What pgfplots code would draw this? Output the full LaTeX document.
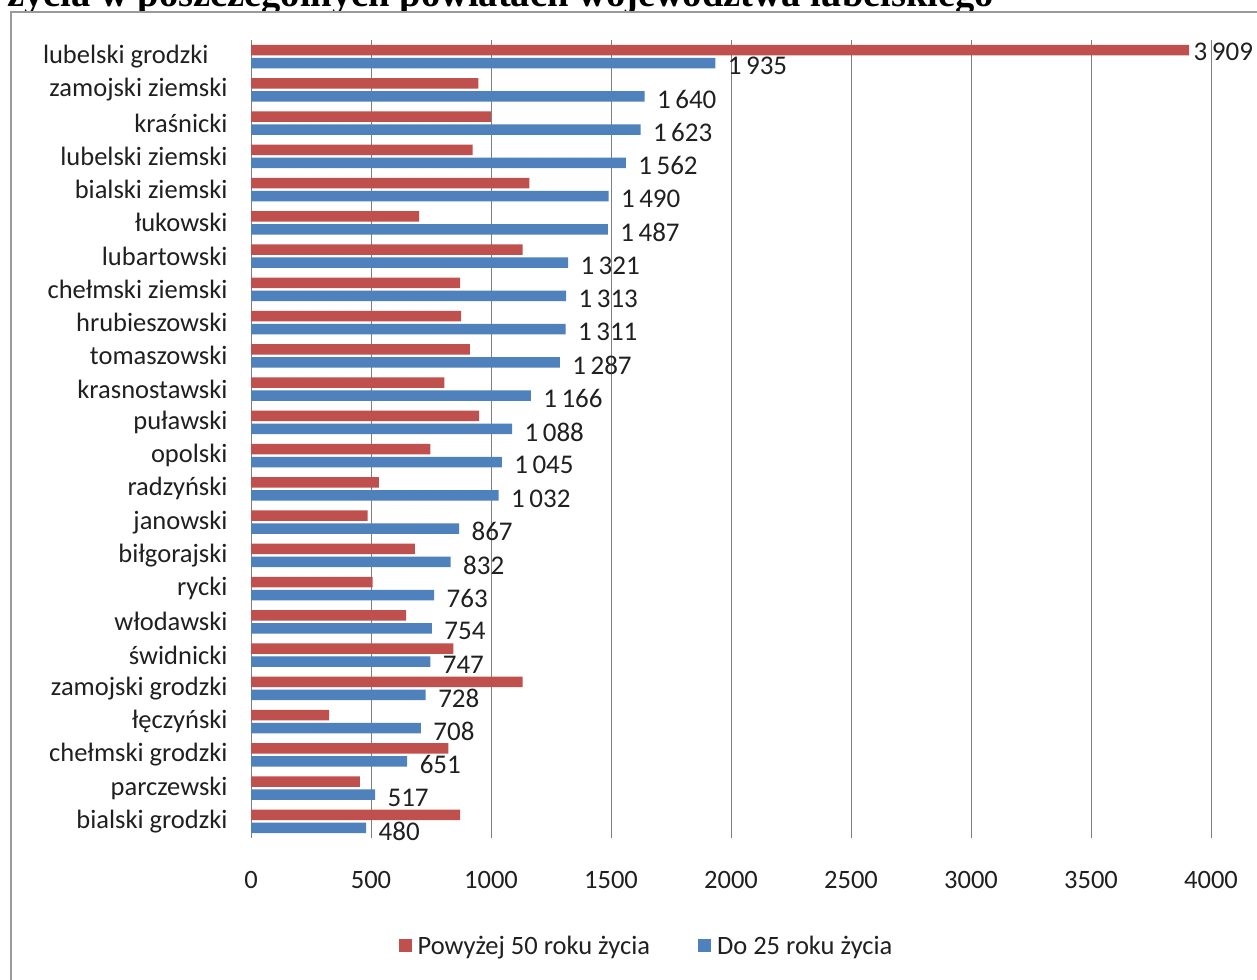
\documentclass[border=0pt]{standalone}
\usepackage{fontspec}
\setmainfont{Carlito}
\newfontfamily\titlefont{Liberation Serif}
\usepackage{pgfplots}
\pgfplotsset{compat=1.18}
\definecolor{redbar}{HTML}{C0504D}
\definecolor{bluebar}{HTML}{4F81BD}
\definecolor{gridgray}{HTML}{7F7F7F}
\definecolor{framegray}{HTML}{9A9A9A}
\definecolor{txt}{HTML}{202020}
\newcommand{\lbl}{\fontsize{26.5}{31}\selectfont}
\newcommand{\dlbl}{\fontsize{27}{32}\selectfont}
\begin{document}
\begin{tikzpicture}[x=1pt,y=1pt]
\useasboundingbox (0,0) rectangle (1257,979);
\node[anchor=base west, inner sep=0, font=\titlefont\bfseries\fontsize{38.5}{45}\selectfont] at (7,972) {życia w poszczególnych powiatach województwa lubelskiego};
\fill[white] (11,-10) rectangle (1270,967);
\draw[framegray, line width=2] (11,-10) rectangle (1270,967);
\begin{axis}[
  at={(251pt,141pt)}, anchor=south west,
  scale only axis, width=960pt, height=798pt,
  xbar, bar width=10.5pt,
  xmin=0, xmax=4000, ymin=-0.5, ymax=23.5, y dir=reverse,
  ytick={0,...,23},
  yticklabels={lubelski grodzki\hspace*{19pt},zamojski ziemski,kraśnicki,lubelski ziemski,bialski ziemski,łukowski,lubartowski,chełmski ziemski,hrubieszowski,tomaszowski,krasnostawski,puławski,opolski,radzyński,janowski,biłgorajski,rycki,włodawski,świdnicki,zamojski grodzki,łęczyński,chełmski grodzki,parczewski,bialski grodzki},
  xtick={0,500,...,4000},
  major tick length=0pt,
  xmajorgrids, grid style={gridgray, line width=1pt},
  axis line style={draw=none},
  /pgf/number format/assume math mode=true,
  /pgf/number format/1000 sep={},
  xticklabel style={font=\lbl, text=txt, yshift=-30pt},
  yticklabel style={font=\lbl, text=txt, xshift=-20pt},
  clip=false,
  legend style={at={(0.412,-0.135)}, anchor=center, draw=none, legend columns=2, font=\lbl, text=txt,
    /tikz/every odd column/.append style={column sep=4pt},
    /tikz/every even column/.append style={column sep=46pt}},
  legend image code/.code={\fill[#1] (0pt,-6.5pt) rectangle (13pt,6.5pt);},
]
\addplot[fill=redbar, draw=none, bar shift=6.5pt, point meta=explicit symbolic,
  nodes near coords, every node near coord/.append style={font=\dlbl, text=txt, anchor=west, xshift=1pt, yshift=-2pt}]
coordinates {(3909,0) [3\,909] (947,1) [] (999,2) [] (923,3) [] (1160,4) [] (700,5) [] (1132,6) [] (871,7) [] (875,8) [] (912,9) [] (806,10) [] (950,11) [] (747,12) [] (533,13) [] (486,14) [] (683,15) [] (507,16) [] (646,17) [] (843,18) [] (1132,19) [] (325,20) [] (822,21) [] (454,22) [] (871,23) []};
\addlegendentry{Powyżej 50 roku życia}
\addplot[fill=bluebar, draw=none, bar shift=-6.5pt,
  nodes near coords={\pgfmathprintnumber[1000 sep={\,}, assume math mode=true]{\pgfplotspointmeta}},
  every node near coord/.append style={font=\dlbl, text=txt, anchor=west, xshift=9pt, yshift=-3pt}]
coordinates {(1935,0) (1640,1) (1623,2) (1562,3) (1490,4) (1487,5) (1321,6) (1313,7) (1311,8) (1287,9) (1166,10) (1088,11) (1045,12) (1032,13) (867,14) (832,15) (763,16) (754,17) (747,18) (728,19) (708,20) (651,21) (517,22) (480,23)};
\addlegendentry{Do 25 roku życia}
\end{axis}
\end{tikzpicture}
\end{document}
